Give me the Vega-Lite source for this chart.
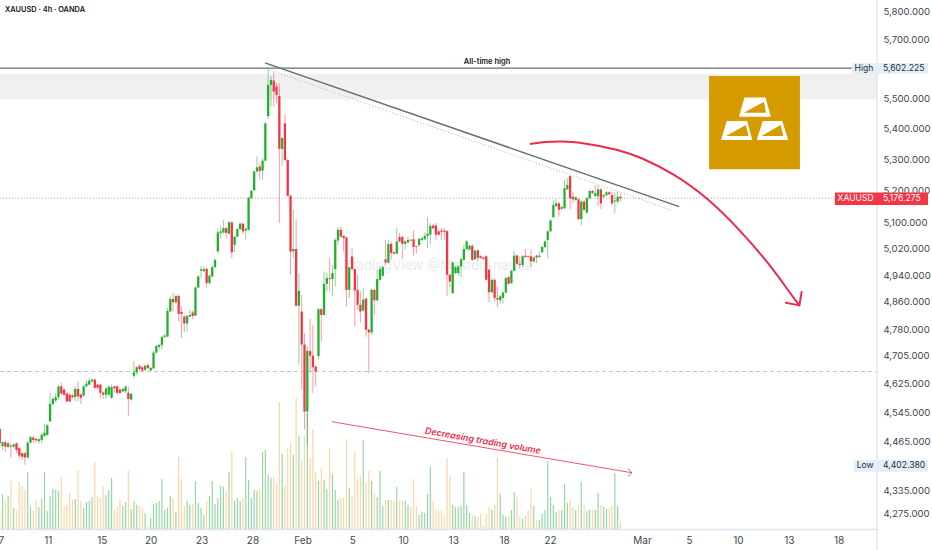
{
  "$schema": "https://vega.github.io/schema/vega-lite/v6.json",
  "width": 877,
  "height": 529,
  "autosize": {"type": "none"},
  "padding": {"left": 0, "top": 0, "right": 55, "bottom": 21},
  "background": "#ffffff",
  "config": {"view": {"stroke": null}, "text": {"font": "Inter"}},
  "datasets": {
    "candles": [
{"i":0,"o":4499,"h":4505,"l":4460,"c":4460,"v":20},{"i":1,"o":4453,"h":4466,"l":4442,"c":4463,"v":35},{"i":2,"o":4463,"h":4468,"l":4438,"c":4451,"v":28},{"i":3,"o":4451,"h":4466,"l":4447,"c":4460,"v":33},{"i":4,"o":4454,"h":4460,"l":4422,"c":4451,"v":48},{"i":5,"o":4451,"h":4460,"l":4447,"c":4457,"v":21},{"i":6,"o":4460,"h":4463,"l":4433,"c":4442,"v":18},{"i":7,"o":4447,"h":4450,"l":4420,"c":4427,"v":47},{"i":8,"o":4433,"h":4437,"l":4415,"c":4424,"v":43},{"i":9,"o":4433,"h":4437,"l":4402.38,"c":4422,"v":39},
{"i":10,"o":4422,"h":4466,"l":4419,"c":4462,"v":57},{"i":11,"o":4462,"h":4480,"l":4460,"c":4477,"v":22},{"i":12,"o":4476,"h":4480,"l":4460,"c":4469,"v":18},{"i":13,"o":4472,"h":4476,"l":4462,"c":4468,"v":29},{"i":14,"o":4466,"h":4475,"l":4460,"c":4471,"v":22},{"i":15,"o":4469,"h":4489,"l":4460,"c":4483,"v":30},{"i":16,"o":4480,"h":4514,"l":4478,"c":4489,"v":57},{"i":17,"o":4483,"h":4513,"l":4480,"c":4509,"v":18},{"i":18,"o":4520,"h":4600,"l":4518,"c":4568,"v":33},{"i":19,"o":4568,"h":4589,"l":4563,"c":4582,"v":40},
{"i":20,"o":4578,"h":4598,"l":4572,"c":4587,"v":39},{"i":21,"o":4587,"h":4622,"l":4580,"c":4617,"v":38},{"i":22,"o":4617,"h":4627,"l":4594,"c":4597,"v":52},{"i":23,"o":4608,"h":4612,"l":4592,"c":4594,"v":23},{"i":24,"o":4597,"h":4600,"l":4573,"c":4575,"v":24},{"i":25,"o":4594,"h":4598,"l":4573,"c":4575,"v":36},{"i":26,"o":4592,"h":4597,"l":4582,"c":4587,"v":29},{"i":27,"o":4587,"h":4617,"l":4575,"c":4610,"v":30},{"i":28,"o":4610,"h":4631,"l":4575,"c":4589,"v":58},{"i":29,"o":4594,"h":4598,"l":4568,"c":4585,"v":28},
{"i":30,"o":4591,"h":4620,"l":4589,"c":4617,"v":21},{"i":31,"o":4617,"h":4634,"l":4615,"c":4625,"v":27},{"i":32,"o":4622,"h":4640,"l":4620,"c":4633,"v":28},{"i":33,"o":4631,"h":4639,"l":4628,"c":4636,"v":32},{"i":34,"o":4636,"h":4640,"l":4611,"c":4613,"v":67},{"i":35,"o":4622,"h":4625,"l":4610,"c":4613,"v":33},{"i":36,"o":4622,"h":4625,"l":4585,"c":4599,"v":31},{"i":37,"o":4600,"h":4603,"l":4582,"c":4594,"v":43},{"i":38,"o":4594,"h":4615,"l":4582,"c":4611,"v":34},{"i":39,"o":4594,"h":4620,"l":4590,"c":4616,"v":39},
{"i":40,"o":4585,"h":4622,"l":4582,"c":4615,"v":51},{"i":41,"o":4617,"h":4620,"l":4599,"c":4612,"v":19},{"i":42,"o":4617,"h":4620,"l":4594,"c":4599,"v":22},{"i":43,"o":4608,"h":4612,"l":4596,"c":4599,"v":29},{"i":44,"o":4603,"h":4613,"l":4600,"c":4610,"v":23},{"i":45,"o":4603,"h":4620,"l":4598,"c":4616,"v":27},{"i":46,"o":4599,"h":4615,"l":4535,"c":4582,"v":58},{"i":47,"o":4580,"h":4599,"l":4577,"c":4596,"v":20},{"i":48,"o":4647,"h":4688,"l":4641,"c":4656,"v":28},{"i":49,"o":4656,"h":4675,"l":4650,"c":4671,"v":24},
{"i":50,"o":4675,"h":4680,"l":4660,"c":4666,"v":23},{"i":51,"o":4671,"h":4675,"l":4658,"c":4662,"v":21},{"i":52,"o":4664,"h":4680,"l":4660,"c":4675,"v":16},{"i":53,"o":4677,"h":4682,"l":4665,"c":4669,"v":3},{"i":54,"o":4662,"h":4672,"l":4659,"c":4669,"v":11},{"i":55,"o":4668,"h":4717,"l":4665,"c":4713,"v":25},{"i":56,"o":4713,"h":4735,"l":4710,"c":4732,"v":26},{"i":57,"o":4729,"h":4738,"l":4721,"c":4735,"v":28},{"i":58,"o":4735,"h":4762,"l":4723,"c":4758,"v":50},{"i":59,"o":4758,"h":4766,"l":4755,"c":4762,"v":19},
{"i":60,"o":4759,"h":4842,"l":4757,"c":4834,"v":21},{"i":61,"o":4832,"h":4877,"l":4830,"c":4869,"v":33},{"i":62,"o":4869,"h":4886,"l":4832,"c":4859,"v":31},{"i":63,"o":4859,"h":4882,"l":4855,"c":4878,"v":17},{"i":64,"o":4878,"h":4882,"l":4803,"c":4825,"v":72},{"i":65,"o":4831,"h":4847,"l":4755,"c":4825,"v":50},{"i":66,"o":4817,"h":4821,"l":4772,"c":4797,"v":23},{"i":67,"o":4797,"h":4822,"l":4774,"c":4819,"v":28},{"i":68,"o":4817,"h":4837,"l":4815,"c":4822,"v":24},{"i":69,"o":4829,"h":4835,"l":4810,"c":4819,"v":25},
{"i":70,"o":4820,"h":4906,"l":4818,"c":4903,"v":48},{"i":71,"o":4903,"h":4940,"l":4901,"c":4936,"v":26},{"i":72,"o":4954,"h":4968,"l":4931,"c":4958,"v":21},{"i":73,"o":4952,"h":4966,"l":4950,"c":4958,"v":14},{"i":74,"o":4959,"h":4962,"l":4901,"c":4916,"v":28},{"i":75,"o":4916,"h":4942,"l":4911,"c":4938,"v":33},{"i":76,"o":4936,"h":4968,"l":4934,"c":4964,"v":48},{"i":77,"o":4964,"h":4990,"l":4961,"c":4986,"v":25},{"i":78,"o":5012,"h":5083,"l":5005,"c":5070,"v":31},{"i":79,"o":5068,"h":5090,"l":5052,"c":5073,"v":43},
{"i":80,"o":5070,"h":5109,"l":5066,"c":5083,"v":42},{"i":81,"o":5083,"h":5087,"l":5052,"c":5068,"v":38},{"i":82,"o":5066,"h":5105,"l":5062,"c":5101,"v":57},{"i":83,"o":5101,"h":5105,"l":4992,"c":5009,"v":77},{"i":84,"o":5032,"h":5060,"l":5009,"c":5057,"v":28},{"i":85,"o":5057,"h":5083,"l":5055,"c":5080,"v":31},{"i":86,"o":5080,"h":5100,"l":5078,"c":5097,"v":28},{"i":87,"o":5097,"h":5100,"l":5066,"c":5073,"v":31},{"i":88,"o":5076,"h":5085,"l":5047,"c":5081,"v":72},{"i":89,"o":5078,"h":5182,"l":5075,"c":5178,"v":49},
{"i":90,"o":5176,"h":5203,"l":5173,"c":5200,"v":31},{"i":91,"o":5202,"h":5265,"l":5199,"c":5261,"v":39},{"i":92,"o":5261,"h":5309,"l":5258,"c":5275,"v":38},{"i":93,"o":5277,"h":5288,"l":5236,"c":5263,"v":40},{"i":94,"o":5264,"h":5304,"l":5234,"c":5296,"v":77},{"i":95,"o":5296,"h":5421,"l":5293,"c":5417,"v":79},{"i":96,"o":5441,"h":5602.225,"l":5431,"c":5545,"v":54},{"i":97,"o":5545,"h":5575,"l":5472,"c":5562,"v":51},{"i":98,"o":5560,"h":5590,"l":5472,"c":5523,"v":52},{"i":99,"o":5540,"h":5552,"l":5484,"c":5512,"v":46},
{"i":100,"o":5508,"h":5551,"l":5099,"c":5334,"v":127},{"i":101,"o":5334,"h":5373,"l":5279,"c":5369,"v":75},{"i":102,"o":5417,"h":5445,"l":5293,"c":5298,"v":43},{"i":103,"o":5298,"h":5302,"l":5181,"c":5184,"v":81},{"i":104,"o":5184,"h":5188,"l":4941,"c":5011,"v":86},{"i":105,"o":5012,"h":5142,"l":4992,"c":5019,"v":74},{"i":106,"o":5019,"h":5111,"l":4846,"c":4849,"v":131},{"i":107,"o":4849,"h":4946,"l":4679,"c":4893,"v":93},{"i":108,"o":4832,"h":4881,"l":4608,"c":4736,"v":69},{"i":109,"o":4736,"h":4769,"l":4497,"c":4547,"v":93},
{"i":110,"o":4547,"h":4731,"l":4456,"c":4718,"v":116},{"i":111,"o":4717,"h":4810,"l":4656,"c":4704,"v":71},{"i":112,"o":4704,"h":4793,"l":4599,"c":4671,"v":100},{"i":113,"o":4673,"h":4677,"l":4617,"c":4659,"v":57},{"i":114,"o":4703,"h":4842,"l":4695,"c":4839,"v":48},{"i":115,"o":4839,"h":4843,"l":4745,"c":4822,"v":61},{"i":116,"o":4822,"h":4951,"l":4820,"c":4914,"v":49},{"i":117,"o":4914,"h":4948,"l":4891,"c":4931,"v":40},{"i":118,"o":4931,"h":4992,"l":4891,"c":4928,"v":81},{"i":119,"o":4928,"h":4971,"l":4878,"c":4946,"v":55},
{"i":120,"o":4958,"h":5052,"l":4906,"c":5047,"v":39},{"i":121,"o":5045,"h":5088,"l":5032,"c":5078,"v":29},{"i":122,"o":5078,"h":5088,"l":5054,"c":5057,"v":31},{"i":123,"o":5059,"h":5062,"l":5012,"c":5052,"v":31},{"i":124,"o":5054,"h":5058,"l":4847,"c":4896,"v":90},{"i":125,"o":4896,"h":4966,"l":4872,"c":4963,"v":41},{"i":126,"o":4996,"h":5022,"l":4955,"c":4958,"v":33},{"i":127,"o":4958,"h":4961,"l":4789,"c":4894,"v":78},{"i":128,"o":4896,"h":4941,"l":4837,"c":4852,"v":50},{"i":129,"o":4852,"h":4891,"l":4800,"c":4832,"v":54},
{"i":130,"o":4835,"h":4901,"l":4832,"c":4867,"v":89},{"i":131,"o":4870,"h":4873,"l":4759,"c":4779,"v":46},{"i":132,"o":4779,"h":4782,"l":4654,"c":4771,"v":58},{"i":133,"o":4771,"h":4900,"l":4764,"c":4896,"v":48},{"i":134,"o":4896,"h":4899,"l":4822,"c":4865,"v":36},{"i":135,"o":4865,"h":4956,"l":4862,"c":4928,"v":32},{"i":136,"o":4926,"h":4968,"l":4923,"c":4958,"v":58},{"i":137,"o":4938,"h":4968,"l":4935,"c":4964,"v":23},{"i":138,"o":4988,"h":5047,"l":4970,"c":4978,"v":29},{"i":139,"o":4978,"h":5047,"l":4975,"c":5034,"v":29},
{"i":140,"o":5035,"h":5042,"l":4986,"c":5007,"v":29},{"i":141,"o":5009,"h":5013,"l":5002,"c":5005,"v":28},{"i":142,"o":5005,"h":5083,"l":5002,"c":5042,"v":42},{"i":143,"o":5056,"h":5068,"l":5039,"c":5042,"v":29},{"i":144,"o":5056,"h":5060,"l":4988,"c":5035,"v":29},{"i":145,"o":5035,"h":5046,"l":5017,"c":5042,"v":28},{"i":146,"o":5039,"h":5057,"l":5036,"c":5047,"v":24},{"i":147,"o":5047,"h":5050,"l":5042,"c":5045,"v":22},{"i":148,"o":5049,"h":5076,"l":4999,"c":5025,"v":50},{"i":149,"o":5027,"h":5030,"l":5005,"c":5025,"v":23},
{"i":150,"o":5031,"h":5053,"l":5025,"c":5050,"v":14},{"i":151,"o":5047,"h":5056,"l":5044,"c":5052,"v":17},{"i":152,"o":5049,"h":5070,"l":5046,"c":5059,"v":16},{"i":153,"o":5059,"h":5117,"l":5022,"c":5066,"v":35},{"i":154,"o":5063,"h":5099,"l":5035,"c":5090,"v":62},{"i":155,"o":5091,"h":5097,"l":5080,"c":5083,"v":28},{"i":156,"o":5091,"h":5099,"l":5045,"c":5063,"v":20},{"i":157,"o":5073,"h":5077,"l":5060,"c":5063,"v":18},{"i":158,"o":5076,"h":5083,"l":5047,"c":5072,"v":18},{"i":159,"o":5076,"h":5083,"l":5047,"c":5072,"v":14},
{"i":160,"o":5074,"h":5077,"l":4878,"c":4941,"v":71},{"i":161,"o":4941,"h":4945,"l":4904,"c":4921,"v":53},{"i":162,"o":4886,"h":4982,"l":4884,"c":4978,"v":24},{"i":163,"o":4946,"h":4968,"l":4943,"c":4964,"v":22},{"i":164,"o":4946,"h":4970,"l":4940,"c":4966,"v":22},{"i":165,"o":4966,"h":4992,"l":4934,"c":4988,"v":23},{"i":166,"o":4986,"h":5032,"l":4983,"c":5019,"v":57},{"i":167,"o":5019,"h":5046,"l":5016,"c":5042,"v":24},{"i":168,"o":5017,"h":5033,"l":5014,"c":5029,"v":16},{"i":169,"o":5029,"h":5033,"l":4983,"c":4986,"v":14},
{"i":170,"o":4988,"h":5018,"l":4985,"c":5014,"v":13},{"i":171,"o":5015,"h":5018,"l":4981,"c":4992,"v":12},{"i":172,"o":4997,"h":5000,"l":4989,"c":4992,"v":15},{"i":173,"o":4993,"h":4996,"l":4986,"c":4989,"v":3},{"i":174,"o":4997,"h":5000,"l":4923,"c":4926,"v":15},{"i":175,"o":4956,"h":4960,"l":4859,"c":4889,"v":22},{"i":176,"o":4889,"h":4930,"l":4886,"c":4926,"v":19},{"i":177,"o":4926,"h":4930,"l":4862,"c":4872,"v":24},{"i":178,"o":4872,"h":4906,"l":4845,"c":4867,"v":72},{"i":179,"o":4865,"h":4881,"l":4855,"c":4877,"v":35},
{"i":180,"o":4872,"h":4891,"l":4855,"c":4888,"v":14},{"i":181,"o":4888,"h":4935,"l":4885,"c":4931,"v":12},{"i":182,"o":4934,"h":4938,"l":4911,"c":4914,"v":13},{"i":183,"o":4916,"h":4956,"l":4913,"c":4953,"v":19},{"i":184,"o":4953,"h":5012,"l":4950,"c":4999,"v":37},{"i":185,"o":4999,"h":5003,"l":4971,"c":4974,"v":32},{"i":186,"o":4974,"h":4997,"l":4961,"c":4971,"v":12},{"i":187,"o":4971,"h":5000,"l":4964,"c":4997,"v":10},{"i":188,"o":4999,"h":5019,"l":4992,"c":4995,"v":13},{"i":189,"o":4997,"h":5000,"l":4992,"c":4995,"v":19},
{"i":190,"o":4997,"h":5019,"l":4964,"c":4981,"v":41},{"i":191,"o":4981,"h":4996,"l":4978,"c":4993,"v":23},{"i":192,"o":4999,"h":5002,"l":4976,"c":4993,"v":9},{"i":193,"o":4995,"h":5012,"l":4992,"c":4999,"v":9},{"i":194,"o":5009,"h":5029,"l":5006,"c":5025,"v":15},{"i":195,"o":5025,"h":5046,"l":5022,"c":5042,"v":19},{"i":196,"o":5047,"h":5077,"l":4992,"c":5073,"v":68},{"i":197,"o":5073,"h":5111,"l":5070,"c":5107,"v":32},{"i":198,"o":5117,"h":5171,"l":5114,"c":5155,"v":24},{"i":199,"o":5152,"h":5173,"l":5149,"c":5160,"v":17},
{"i":200,"o":5160,"h":5164,"l":5119,"c":5140,"v":19},{"i":201,"o":5143,"h":5153,"l":5140,"c":5149,"v":19},{"i":202,"o":5145,"h":5234,"l":5142,"c":5208,"v":45},{"i":203,"o":5205,"h":5240,"l":5201,"c":5218,"v":26},{"i":204,"o":5246,"h":5249,"l":5142,"c":5176,"v":30},{"i":205,"o":5181,"h":5197,"l":5160,"c":5173,"v":22},{"i":206,"o":5171,"h":5183,"l":5168,"c":5179,"v":19},{"i":207,"o":5173,"h":5177,"l":5108,"c":5111,"v":23},{"i":208,"o":5111,"h":5170,"l":5093,"c":5166,"v":47},{"i":209,"o":5166,"h":5170,"l":5137,"c":5140,"v":24},
{"i":210,"o":5131,"h":5180,"l":5128,"c":5176,"v":18},{"i":211,"o":5176,"h":5203,"l":5173,"c":5199,"v":19},{"i":212,"o":5199,"h":5203,"l":5189,"c":5192,"v":19},{"i":213,"o":5183,"h":5218,"l":5180,"c":5192,"v":19},{"i":214,"o":5183,"h":5218,"l":5150,"c":5204,"v":36},{"i":215,"o":5204,"h":5208,"l":5142,"c":5160,"v":24},{"i":216,"o":5181,"h":5190,"l":5178,"c":5186,"v":22},{"i":217,"o":5186,"h":5199,"l":5183,"c":5195,"v":20},{"i":218,"o":5195,"h":5199,"l":5186,"c":5189,"v":21},{"i":219,"o":5186,"h":5197,"l":5155,"c":5160,"v":23},
{"i":220,"o":5166,"h":5192,"l":5130,"c":5169,"v":56},{"i":221,"o":5166,"h":5197,"l":5160,"c":5181,"v":23},{"i":222,"o":5181,"h":5192,"l":5166,"c":5176.275,"v":8}
    ]
  },
  "encoding": {
    "x": {
      "field": "i",
      "type": "quantitative",
      "scale": {"domain": [0.093, 313.76], "nice": false, "zero": false, "padding": 0},
      "axis": {
        "title": null,
        "orient": "bottom",
        "grid": false,
        "ticks": false,
        "domain": true,
        "domainColor": "#e0e3eb",
        "domainWidth": 1.5,
        "values": [0.4, 17.2, 36.5, 54, 72.2, 90.4, 108.3, 126.1, 144.3, 162.2, 180.4, 196.8, 229.7, 246.5, 264, 282.2, 300],
        "labelExpr": "{'0.4':'7','17.2':'11','36.5':'15','54':'20','72.2':'23','90.4':'28','108.3':'Feb','126.1':'5','144.3':'10','162.2':'13','180.4':'18','196.8':'22','229.7':'Mar','246.5':'5','264':'10','282.2':'13','300':'18'}[datum.value]",
        "labelFont": "Inter",
        "labelFontSize": 10,
        "labelColor": "#434651",
        "labelPadding": 6,
        "labelOverlap": false,
        "labelFlush": false,
        "labelBound": false,
        "labelFontWeight": {"condition": {"test": "datum.label == 'Feb' || datum.label == 'Mar'", "value": "bold"}, "value": "normal"}
      }
    }
  },
  "resolve": {"scale": {"y": "independent"}},
  "layer": [
    {
      "data": {"name": "candles"},
      "mark": {"type": "bar", "orient": "vertical", "size": 1.2},
      "encoding": {
        "y": {"field": "v", "type": "quantitative", "scale": {"domain": [0, 529], "nice": false}, "axis": null},
        "color": {"condition": {"test": "datum.c >= datum.o", "value": "#94d8a6"}, "value": "#fbd6a6"}
      }
    },
    {
      "encoding": {
        "y": {
          "field": "p",
          "type": "quantitative",
          "scale": {"type": "log", "domain": [4233.8, 5838.9], "nice": false, "zero": false},
          "axis": {
            "title": null,
            "orient": "right",
            "grid": false,
            "ticks": false,
            "domain": false,
            "values": [5800, 5700, 5500, 5400, 5300, 5200, 5100, 5020, 4940, 4860, 4780, 4705, 4625, 4545, 4465, 4335, 4275],
            "format": ",.3f",
            "labelFont": "Inter",
            "labelFontSize": 9.6,
            "labelColor": "#434651",
            "labelPadding": 6,
            "labelOverlap": false,
            "labelBound": false
          }
        }
      },
      "layer": [
        {
          "data": {"values": [{"i": 0.093, "i2": 313.76, "p": 5582, "p2": 5496}]},
          "mark": {"type": "rect", "color": "#f0f0f0"},
          "encoding": {"x2": {"field": "i2"}, "y2": {"field": "p2"}}
        },
        {
          "data": {"values": [{"i": 156.7, "p": 4968, "t": "TradingView @MasterAnanda"}]},
          "mark": {"type": "text", "font": "Inter", "fontSize": 13.5, "color": "#ebebeb", "align": "center", "baseline": "middle"},
          "encoding": {"text": {"field": "t"}}
        },
        {
          "data": {"values": [{"i": 0.093, "i2": 298.7, "p": 5176.275, "p2": 5176.275}]},
          "mark": {"type": "rule", "color": "#f23645", "strokeWidth": 1, "strokeDash": [1, 2], "opacity": 0.55},
          "encoding": {"x2": {"field": "i2"}, "y2": {"field": "p2"}}
        },
        {
          "data": {"values": [{"i": 0.093, "i2": 313.76, "p": 4659, "p2": 4659}]},
          "mark": {"type": "rule", "color": "#c4c6cc", "strokeWidth": 1, "strokeDash": [4, 3]},
          "encoding": {"x2": {"field": "i2"}, "y2": {"field": "p2"}}
        },
        {
          "data": {"values": [{"i": 0.093, "i2": 304.8, "p": 5602.225, "p2": 5602.225}]},
          "mark": {"type": "rule", "color": "#6a6d78", "strokeWidth": 1.3},
          "encoding": {"x2": {"field": "i2"}, "y2": {"field": "p2"}}
        },
        {
          "data": {"values": [{"i": 174.3, "p": 5623, "t": "All-time high"}]},
          "mark": {"type": "text", "font": "Inter", "fontSize": 7.5, "fontWeight": 600, "color": "#131722", "align": "center", "baseline": "middle"},
          "encoding": {"text": {"field": "t"}}
        },
        {
          "data": {"name": "candles"},
          "mark": {"type": "rule", "strokeWidth": 0.9, "opacity": 0.55},
          "encoding": {
            "y": {
              "field": "l",
              "type": "quantitative",
              "scale": {"type": "log", "domain": [4233.8, 5838.9], "nice": false, "zero": false},
              "axis": {"title": null, "orient": "right", "grid": false, "ticks": false, "domain": false, "values": [5800, 5700, 5500, 5400, 5300, 5200, 5100, 5020, 4940, 4860, 4780, 4705, 4625, 4545, 4465, 4335, 4275], "format": ",.3f", "labelFont": "Inter", "labelFontSize": 9.6, "labelColor": "#434651", "labelPadding": 6, "labelOverlap": false, "labelBound": false}
            },
            "y2": {"field": "h"},
            "color": {"condition": {"test": "datum.c >= datum.o", "value": "#2a9d36"}, "value": "#f23645"}
          }
        },
        {
          "data": {"name": "candles"},
          "mark": {"type": "bar", "orient": "vertical", "size": 2.3},
          "encoding": {
            "y": {
              "field": "o",
              "type": "quantitative",
              "scale": {"type": "log", "domain": [4233.8, 5838.9], "nice": false, "zero": false},
              "axis": {"title": null, "orient": "right", "grid": false, "ticks": false, "domain": false, "values": [5800, 5700, 5500, 5400, 5300, 5200, 5100, 5020, 4940, 4860, 4780, 4705, 4625, 4545, 4465, 4335, 4275], "format": ",.3f", "labelFont": "Inter", "labelFontSize": 9.6, "labelColor": "#434651", "labelPadding": 6, "labelOverlap": false, "labelBound": false}
            },
            "y2": {"field": "c"},
            "color": {"condition": {"test": "datum.c >= datum.o", "value": "#22b02e"}, "value": "#f23645"}
          }
        },
        {
          "data": {"values": [{"i": 94.87, "i2": 243, "p": 5620, "p2": 5150}]},
          "mark": {"type": "rule", "color": "#6a6d78", "strokeWidth": 1.5},
          "encoding": {"x2": {"field": "i2"}, "y2": {"field": "p2"}}
        },
        {
          "data": {"values": [{"i": 96.66, "i2": 240.1, "p": 5596, "p2": 5139}]},
          "mark": {"type": "rule", "color": "#c9a6ac", "strokeWidth": 1, "strokeDash": [1, 2]},
          "encoding": {"x2": {"field": "i2"}, "y2": {"field": "p2"}}
        },
        {
          "data": {"values": [
            {"i": 189.65, "p": 5350}, {"i": 196.8, "p": 5358}, {"i": 205.7, "p": 5358}, {"i": 214.7, "p": 5343},
            {"i": 221.8, "p": 5329}, {"i": 229, "p": 5308}, {"i": 240.8, "p": 5256}, {"i": 252.9, "p": 5180},
            {"i": 264.8, "p": 5077}, {"i": 275.5, "p": 4971}, {"i": 282.6, "p": 4887}, {"i": 286, "p": 4850}
          ]},
          "mark": {"type": "line", "color": "#ea2c4a", "strokeWidth": 2, "interpolate": "basis"},
          "encoding": {}
        },
        {
          "data": {"values": [{"i": 281.2, "i2": 286, "p": 4858, "p2": 4850}, {"i": 286.8, "i2": 286, "p": 4890, "p2": 4850}]},
          "mark": {"type": "rule", "color": "#ea2c4a", "strokeWidth": 2, "strokeCap": "round"},
          "encoding": {"x2": {"field": "i2"}, "y2": {"field": "p2"}}
        },
        {
          "data": {"values": [
            {"i": 118.8, "i2": 226.1, "p": 4519, "p2": 4381},
            {"i": 224.7, "i2": 226.1, "p": 4392, "p2": 4381},
            {"i": 224.7, "i2": 226.1, "p": 4371, "p2": 4381}
          ]},
          "mark": {"type": "rule", "color": "#ea2c4a", "strokeWidth": 1, "opacity": 0.8},
          "encoding": {"x2": {"field": "i2"}, "y2": {"field": "p2"}}
        },
        {
          "data": {"values": [{"i": 172.8, "p": 4467, "t": "Decreasing trading volume"}]},
          "mark": {"type": "text", "font": "Inter", "fontSize": 9, "fontStyle": "italic", "fontWeight": 600, "angle": 10, "color": "#ea2c4a", "align": "center", "baseline": "middle"},
          "encoding": {"text": {"field": "t"}}
        },
        {
          "data": {"values": [{"i": 253.7, "i2": 286.2, "p": 5575, "p2": 5268}]},
          "mark": {"type": "rect", "color": "#d59b00"},
          "encoding": {"x2": {"field": "i2"}, "y2": {"field": "p2"}}
        },
        {
          "data": {"values": [{"i": 270, "p": 5419.5}]},
          "mark": {
            "type": "point",
            "filled": true,
            "opacity": 1,
            "size": 400,
            "fill": "#ffffff",
            "stroke": "#ffffff",
            "strokeWidth": 1.5,
            "strokeJoin": "round",
            "shape": "M-0.97,-2.43L1.03,-2.43L1.53,-0.67L-1.47,-0.67ZM-2.73,-0.1L-0.8,-0.1L-0.33,1.67L-3.27,1.67ZM0.87,-0.1L2.7,-0.1L3.27,1.67L0.3,1.67Z"
          }
        },
        {
          "data": {"values": [{"i": 270, "p": 5419.5}]},
          "mark": {
            "type": "point",
            "filled": true,
            "opacity": 1,
            "size": 400,
            "fill": "#d59b00",
            "shape": "M-1.07,-1L0.93,-2.1L1.13,-1ZM-2.87,1.33L-0.87,0.23L-0.63,1.33ZM0.7,1.33L2.6,0.23L2.87,1.33Z"
          }
        },
        {
          "data": {"values": [{"i": 313.76, "i2": 313.76, "p": 5838.9, "p2": 4180}]},
          "mark": {"type": "rule", "color": "#d9dce3", "strokeWidth": 1},
          "encoding": {"x2": {"field": "i2"}, "y2": {"field": "p2"}}
        },
        {
          "data": {"values": [{"i": 304.8, "i2": 332, "p": 5620, "p2": 5582}, {"i": 305.5, "i2": 332, "p": 4415, "p2": 4384}]},
          "mark": {"type": "rect", "color": "#e3eff9"},
          "encoding": {"x2": {"field": "i2"}, "y2": {"field": "p2"}}
        },
        {
          "data": {"values": [{"i": 298.7, "i2": 332, "p": 5194, "p2": 5155}]},
          "mark": {"type": "rect", "color": "#f23645"},
          "encoding": {"x2": {"field": "i2"}, "y2": {"field": "p2"}}
        },
        {
          "data": {"values": [{"i": 309.1, "p": 5602.225, "t": "High"}, {"i": 309.5, "p": 4402.38, "t": "Low"}]},
          "mark": {"type": "text", "font": "Inter", "fontSize": 8.6, "color": "#2a2e39", "align": "center", "baseline": "middle"},
          "encoding": {"text": {"field": "t"}}
        },
        {
          "data": {"values": [{"i": 315.9, "p": 5602.225, "t": "5,602.225"}, {"i": 315.9, "p": 4402.38, "t": "4,402.380"}]},
          "mark": {"type": "text", "font": "Inter", "fontSize": 8.6, "color": "#2a2e39", "align": "left", "baseline": "middle"},
          "encoding": {"text": {"field": "t"}}
        },
        {
          "data": {"values": [{"i": 306.1, "p": 5176.275, "t": "XAUUSD"}]},
          "mark": {"type": "text", "font": "Inter", "fontSize": 8.6, "color": "#ffffff", "align": "center", "baseline": "middle"},
          "encoding": {"text": {"field": "t"}}
        },
        {
          "data": {"values": [{"i": 315.9, "p": 5176.275, "t": "5,176.275"}]},
          "mark": {"type": "text", "font": "Inter", "fontSize": 8.6, "color": "#ffffff", "align": "left", "baseline": "middle"},
          "encoding": {"text": {"field": "t"}}
        },
        {
          "data": {"values": [{"i": 1.9, "p": 5803, "t": "XAUUSD · 4h · OANDA"}]},
          "mark": {"type": "text", "font": "Inter", "fontSize": 7.4, "fontWeight": 600, "color": "#131722", "align": "left", "baseline": "middle"},
          "encoding": {"text": {"field": "t"}}
        }
      ]
    }
  ]
}
